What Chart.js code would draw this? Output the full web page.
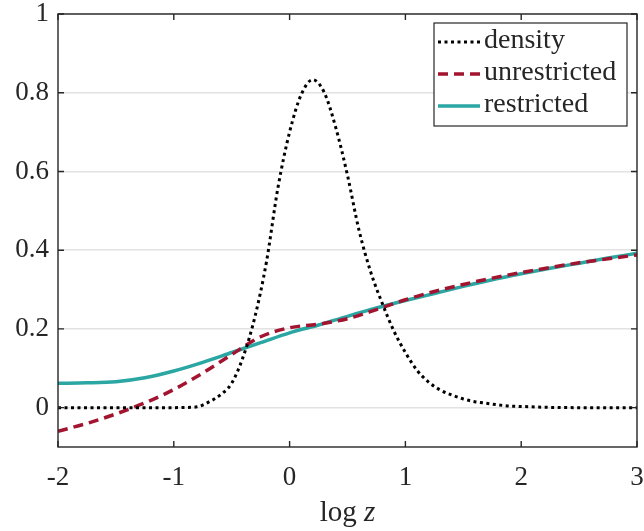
<!DOCTYPE html>
<html>
<head>
<meta charset="utf-8">
<script src="https://cdn.jsdelivr.net/npm/chart.js@4/dist/chart.umd.min.js"></script>
<style>
  html, body { margin: 0; padding: 0; background: #fff; }
  #chart { display: block; }
</style>
</head>
<body>
<canvas id="chart" width="644" height="531"></canvas>
<script>
// values

const densityX = [-2, -1.5, -1, -0.9, -0.8, -0.7, -0.6, -0.5, -0.4, -0.3, -0.2, -0.1, 0, 0.1, 0.2, 0.3, 0.4, 0.5,
  0.6, 0.7, 0.8, 0.9, 1.0, 1.1, 1.2, 1.3, 1.4, 1.5, 1.6, 1.7, 1.8, 1.9, 2.0, 2.2, 2.5, 3];
const densityY = [0, 0, 0, 0.0005, 0.002, 0.014, 0.032, 0.062, 0.13, 0.23, 0.37, 0.56, 0.70, 0.795, 0.833, 0.80, 0.71, 0.59,
  0.45, 0.345, 0.265, 0.195, 0.14, 0.095, 0.065, 0.045, 0.032, 0.022, 0.015, 0.011, 0.007, 0.004, 0.003, 0.001, 0, 0];

const curveX = [-2, -1.75, -1.5, -1.25, -1, -0.75, -0.5, -0.25, 0, 0.25, 0.5, 0.75, 1, 1.25, 1.5, 1.75, 2, 2.25, 2.5, 2.75, 3];
const unrestrictedY = [-0.06, -0.04, -0.016, 0.012, 0.046, 0.088, 0.135, 0.18, 0.203, 0.212, 0.226, 0.249, 0.274,
  0.295, 0.313, 0.329, 0.343, 0.356, 0.368, 0.378, 0.388];
const restrictedY = [0.062, 0.063, 0.066, 0.076, 0.093, 0.115, 0.14, 0.165, 0.19, 0.21, 0.232, 0.253, 0.272,
  0.29, 0.308, 0.325, 0.34, 0.354, 0.367, 0.38, 0.392];

const xTicks = [-2, -1, 0, 1, 2, 3];
const yTicks = [0, 0.2, 0.4, 0.6, 0.8, 1];

const FONT = "'Liberation Serif', 'DejaVu Serif', serif";
const AXIS = "#262626";

function pts(xs, ys) {
  return xs.map((x, i) => ({ x: x, y: ys[i] }));
}

// box + inward ticks, matlab style
const boxPlugin = {
  id: "box",
  afterDatasetsDraw(chart) {
    const { ctx, chartArea: a, scales } = chart;
    const len = 6;
    ctx.save();
    ctx.strokeStyle = AXIS;
    ctx.lineWidth = 1.4;
    ctx.strokeRect(a.left, a.top, a.right - a.left, a.bottom - a.top);
    ctx.beginPath();
    xTicks.forEach((v) => {
      const px = scales.x.getPixelForValue(v);
      ctx.moveTo(px, a.bottom); ctx.lineTo(px, a.bottom - len);
      ctx.moveTo(px, a.top); ctx.lineTo(px, a.top + len);
    });
    yTicks.forEach((v) => {
      const py = scales.y.getPixelForValue(v);
      ctx.moveTo(a.left, py); ctx.lineTo(a.left + len, py);
      ctx.moveTo(a.right, py); ctx.lineTo(a.right - len, py);
    });
    ctx.stroke();

    // x axis title: log z (z italic)
    ctx.fillStyle = AXIS;
    ctx.textBaseline = "alphabetic";
    const cx = (a.left + a.right) / 2;
    ctx.font = "29px " + FONT;
    const w1 = ctx.measureText("log ").width;
    ctx.font = "italic 29px " + FONT;
    const w2 = ctx.measureText("z").width;
    const x0 = cx - (w1 + w2) / 2;
    const by = 521;
    ctx.font = "29px " + FONT;
    ctx.textAlign = "left";
    ctx.fillText("log ", x0, by);
    ctx.font = "italic 29px " + FONT;
    ctx.fillText("z", x0 + w1, by);
    ctx.restore();
  },
};

// legend drawn inside the axes with a frame
const legendPlugin = {
  id: "boxLegend",
  afterDraw(chart) {
    const { ctx } = chart;
    const left = 434, top = 23, right = 627, bottom = 126;
    ctx.save();
    ctx.fillStyle = "#fff";
    ctx.fillRect(left, top, right - left, bottom - top);
    ctx.strokeStyle = AXIS;
    ctx.lineWidth = 1.2;
    ctx.strokeRect(left, top, right - left, bottom - top);
    const rows = [42, 74, 106];
    chart.data.datasets.forEach((ds, i) => {
      const y = rows[i];
      ctx.beginPath();
      ctx.strokeStyle = ds.borderColor;
      ctx.lineWidth = ds.borderWidth;
      ctx.setLineDash(ds.borderDash || []);
      ctx.moveTo(438, y);
      ctx.lineTo(480, y);
      ctx.stroke();
      ctx.setLineDash([]);
      ctx.fillStyle = AXIS;
      ctx.font = "28px " + FONT;
      ctx.textAlign = "left";
      ctx.textBaseline = "middle";
      ctx.fillText(ds.label, 484, y - 1);
    });
    ctx.restore();
  },
};

new Chart(document.getElementById("chart"), {
  type: "line",
  data: {
    datasets: [
      {
        label: "density",
        data: pts(densityX, densityY),
        borderColor: "#000000",
        borderWidth: 3,
        borderDash: [3, 3.5],
        cubicInterpolationMode: "monotone",
      },
      {
        label: "unrestricted",
        data: pts(curveX, unrestrictedY),
        borderColor: "#A2142F",
        borderWidth: 3.5,
        borderDash: [10, 6],
        cubicInterpolationMode: "monotone",
      },
      {
        label: "restricted",
        data: pts(curveX, restrictedY),
        borderColor: "#2AA6A3",
        borderWidth: 3.5,
        cubicInterpolationMode: "monotone",
      },
    ],
  },
  options: {
    responsive: false,
    animation: false,
    parsing: false,
    elements: { point: { radius: 0 } },
    layout: { padding: { top: 14, right: 7, left: 0, bottom: 0 } },
    plugins: {
      legend: { display: false },
      tooltip: { enabled: false },
    },
    scales: {
      x: {
        type: "linear",
        min: -2,
        max: 3,
        afterBuildTicks: (s) => { s.ticks = xTicks.map((v) => ({ value: v })); },
        afterFit: (s) => { s.height = 84; s.paddingLeft = 0; s.paddingRight = 0; },
        grid: { display: false, drawTicks: false },
        border: { display: false },
        ticks: {
          color: AXIS,
          font: { family: FONT, size: 27 },
          padding: 15,
          maxRotation: 0,
          callback: (v) => String(v),
        },
      },
      y: {
        type: "linear",
        min: -0.1,
        max: 1,
        afterBuildTicks: (s) => { s.ticks = yTicks.map((v) => ({ value: v })); },
        afterFit: (s) => { s.width = 58; s.paddingTop = 0; s.paddingBottom = 0; },
        grid: { color: "#e2e2e2", lineWidth: 1.5, drawTicks: false },
        border: { display: false },
        ticks: {
          color: AXIS,
          font: { family: FONT, size: 27 },
          padding: 9,
          callback: (v) => String(Math.round(v * 10) / 10),
        },
      },
    },
  },
  plugins: [boxPlugin, legendPlugin],
});
</script>
</body>
</html>
